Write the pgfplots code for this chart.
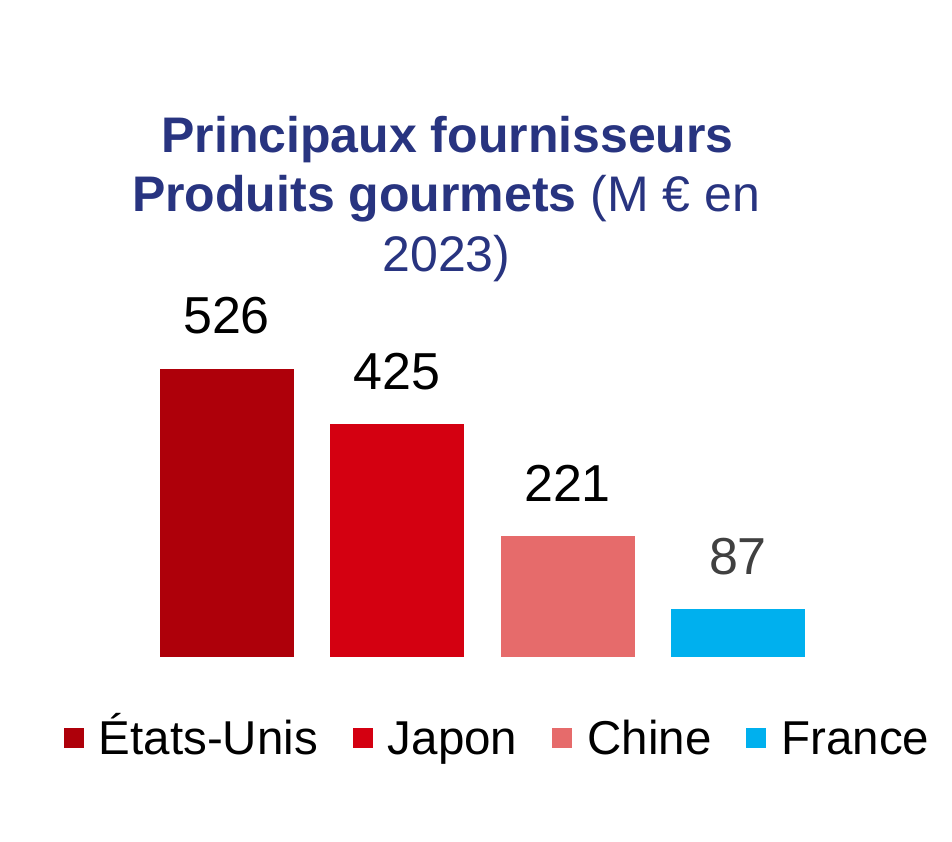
\documentclass[border=0pt]{standalone}
\usepackage{fontspec}
\setmainfont{Liberation Sans}
\usepackage{pgfplots}
\pgfplotsset{compat=1.18}
\definecolor{cUS}{RGB}{174,0,10}
\definecolor{cJP}{RGB}{212,0,17}
\definecolor{cCN}{RGB}{230,107,107}
\definecolor{cFR}{RGB}{0,176,238}
\definecolor{ttl}{RGB}{40,52,128}
\definecolor{lbl}{RGB}{64,64,64}
\begin{document}
\begin{tikzpicture}
\path[use as bounding box, fill=white] (0pt,0pt) rectangle (952pt,842pt);
\begin{axis}[
  at={(141.25pt,185pt)}, anchor=south west,
  scale only axis, width=682pt, height=288pt,
  xmin=-0.5, xmax=3.5, ymin=0, ymax=526,
  hide axis, clip=false,
  ybar, bar width=134pt, bar shift=0pt,
  /pgf/number format/assume math mode=true,
  nodes near coords,
  every node near coord/.append style={anchor=center, yshift=53pt, text=black, font=\fontsize{52}{60}\selectfont},
  legend image code/.code={\fill[#1,draw=none] (0pt,-10pt) rectangle (20pt,10pt); \path (0pt,0pt) (35pt,0pt);},
  legend columns=4,
  legend style={at={(0.521,-0.281)}, anchor=center, draw=none, fill=none,
    font=\fontsize{47.5}{55}\selectfont,
    nodes={inner sep=0pt, text height=34pt, text depth=0pt},
    column sep=0pt,
    /tikz/every even column/.append style={column sep=35pt}},
]
\addplot[fill=cUS, draw=none] coordinates {(0,526)};
\addlegendentry{États-Unis}
\addplot[fill=cJP, draw=none] coordinates {(1,425)};
\addlegendentry{Japon}
\addplot[fill=cCN, draw=none] coordinates {(2,221)};
\addlegendentry{Chine}
\addplot[fill=cFR, draw=none, every node near coord/.append style={text=lbl}] coordinates {(3,87)};
\addlegendentry{France}
\end{axis}
\node[anchor=base, text=ttl, inner sep=0pt, font=\fontsize{50}{58}\selectfont\bfseries] at (447.5pt,689pt) {Principaux fournisseurs};
\node[anchor=base, text=ttl, inner sep=0pt, font=\fontsize{50}{58}\selectfont] at (446pt,630pt) {\textbf{Produits gourmets} (M € en};
\node[anchor=base, text=ttl, inner sep=0pt, font=\fontsize{50}{58}\selectfont] at (446.5pt,570pt) {2023)};
\end{tikzpicture}
\end{document}
